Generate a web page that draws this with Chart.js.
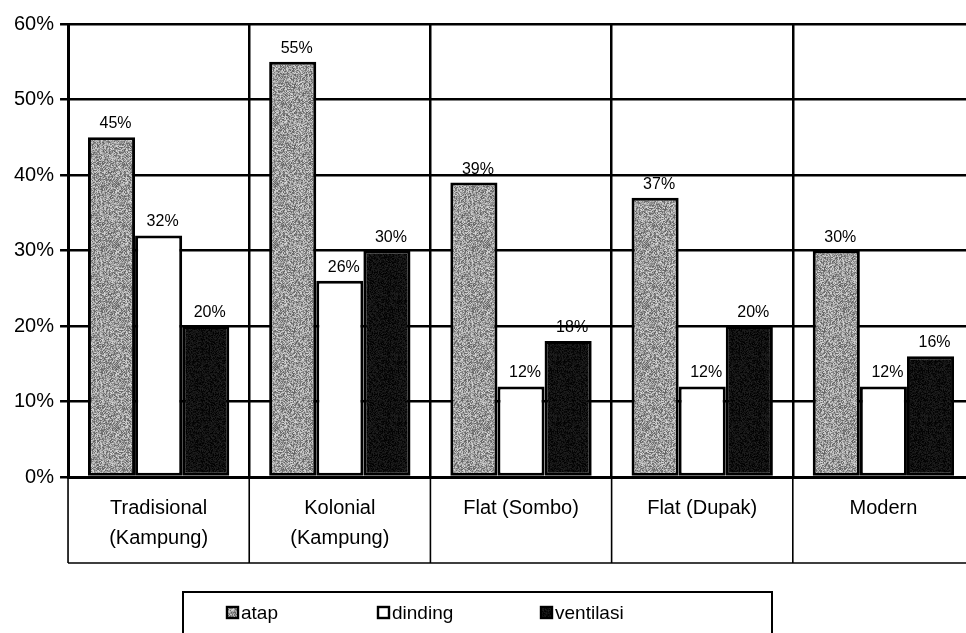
<!DOCTYPE html>
<html>
<head>
<meta charset="utf-8">
<script src="https://cdn.jsdelivr.net/npm/chart.js@4.4.0/dist/chart.umd.min.js"></script>
<style>
  html, body { margin: 0; padding: 0; background: #fff; overflow: hidden; }
  body { width: 966px; height: 633px; }
  #wrap { width: 974px; height: 633px; position: relative; }
</style>
</head>
<body>
<div id="wrap"><canvas id="chart"></canvas></div>
<script>
// ==================== Data ====================
const categories = [['Tradisional', '(Kampung)'], ['Kolonial', '(Kampung)'], 'Flat (Sombo)', 'Flat (Dupak)', 'Modern'];
const seriesNames = ['atap', 'dinding', 'ventilasi'];
const atap = [45, 55, 39, 37, 30];
const dinding = [32, 26, 12, 12, 12];
const ventilasi = [20, 30, 18, 20, 16];
const yMax = 60;
const yStep = 10;

const FONT = '"Liberation Sans", Arial, sans-serif';

// ==================== Scanned-print textures ====================
function makeTexture(ctx, base, spread, seed) {
    const c = document.createElement('canvas');
    c.width = 53; c.height = 61;
    const g = c.getContext('2d');
    const img = g.createImageData(c.width, c.height);
    let s = seed;
    for (let i = 0; i < c.width * c.height; i++) {
        s = (s * 16807) % 2147483647;
        const v = Math.max(0, Math.min(255, base + (s % (spread * 2 + 1)) - spread));
        img.data[i * 4] = img.data[i * 4 + 1] = img.data[i * 4 + 2] = v;
        img.data[i * 4 + 3] = 255;
    }
    g.putImageData(img, 0, 0);
    return ctx.createPattern(c, 'repeat');
}

const canvas = document.getElementById('chart');
const ctx0 = canvas.getContext('2d');
const greyTex = makeTexture(ctx0, 155, 60, 12345);
const blackTex = makeTexture(ctx0, 16, 16, 777);
const fills = [greyTex, '#ffffff', blackTex];

// ==================== Value labels above bars ====================
const valueLabels = {
    id: 'valueLabels',
    afterDatasetsDraw(chart) {
        const ctx = chart.ctx;
        ctx.save();
        ctx.font = '16px ' + FONT;
        ctx.fillStyle = '#000';
        ctx.textAlign = 'center';
        ctx.textBaseline = 'alphabetic';
        chart.data.datasets.forEach((ds, i) => {
            chart.getDatasetMeta(i).data.forEach((bar, j) => {
                ctx.fillText(ds.data[j] + '%', bar.x + 4, bar.y - 9);
            });
        });
        ctx.restore();
    }
};

// ==================== Label table + legend box ====================
const frameAndLegend = {
    id: 'frameAndLegend',
    afterDraw(chart) {
        const ctx = chart.ctx;
        const area = chart.chartArea;
        const x = chart.scales.x;
        const half = (x.getPixelForValue(1) - x.getPixelForValue(0)) / 2;
        const rowBottom = area.bottom + 86;

        ctx.save();
        ctx.strokeStyle = '#000';
        ctx.lineWidth = 1.6;
        ctx.beginPath();
        for (let i = 0; i <= categories.length; i++) {
            const px = x.getPixelForValue(0) - half + i * half * 2;
            ctx.moveTo(px, area.bottom);
            ctx.lineTo(px, rowBottom);
        }
        ctx.moveTo(area.left, rowBottom);
        ctx.lineTo(area.right, rowBottom);
        ctx.stroke();

        // legend
        const box = { left: 183, top: 592, right: 772 };
        const itemX = [226, 377, 540];
        const cy = 613;
        ctx.lineWidth = 2;
        ctx.beginPath();
        ctx.moveTo(box.left, chart.height + 2);
        ctx.lineTo(box.left, box.top);
        ctx.lineTo(box.right, box.top);
        ctx.lineTo(box.right, chart.height + 2);
        ctx.stroke();

        ctx.font = '19px ' + FONT;
        ctx.textAlign = 'left';
        ctx.textBaseline = 'middle';
        seriesNames.forEach((name, i) => {
            const sx = itemX[i];
            ctx.fillStyle = fills[i];
            ctx.fillRect(sx, cy - 7, 13, 13);
            ctx.lineWidth = 2.4;
            ctx.strokeStyle = '#000';
            ctx.strokeRect(sx + 1, cy - 6, 11, 11);
            ctx.fillStyle = '#000';
            ctx.fillText(name, sx + 15, cy + 1);
        });
        ctx.restore();
    }
};

// ==================== Chart ====================
const seriesData = [atap, dinding, ventilasi];

new Chart(canvas, {
    type: 'bar',
    data: {
        labels: categories,
        datasets: seriesNames.map((name, i) => ({
            label: name,
            data: seriesData[i],
            backgroundColor: fills[i],
            borderColor: '#000',
            borderWidth: 3,
            borderSkipped: false,
            categoryPercentage: 0.78,
            barPercentage: 1.0
        }))
    },
    options: {
        responsive: true,
        maintainAspectRatio: false,
        animation: false,
        devicePixelRatio: 1,
        layout: {
            padding: { top: 24, left: 8, right: 0, bottom: 64 }
        },
        plugins: {
            legend: { display: false },
            tooltip: { enabled: false }
        },
        scales: {
            y: {
                min: 0,
                max: yMax,
                ticks: {
                    stepSize: yStep,
                    padding: 6,
                    color: '#000',
                    font: { family: FONT, size: 20 },
                    callback: v => v + '%'
                },
                grid: {
                    color: '#000',
                    lineWidth: 2.5,
                    drawTicks: true,
                    tickLength: 8
                },
                border: { display: true, color: '#000', width: 3 }
            },
            x: {
                offset: true,
                ticks: {
                    padding: 16,
                    color: '#000',
                    maxRotation: 0,
                    autoSkip: false,
                    font: { family: FONT, size: 20, lineHeight: 1.5 }
                },
                grid: {
                    offset: true,
                    color: '#000',
                    lineWidth: 2.5,
                    drawTicks: false
                },
                border: { display: true, color: '#000', width: 3 }
            }
        }
    },
    plugins: [valueLabels, frameAndLegend]
});
</script>
</body>
</html>
